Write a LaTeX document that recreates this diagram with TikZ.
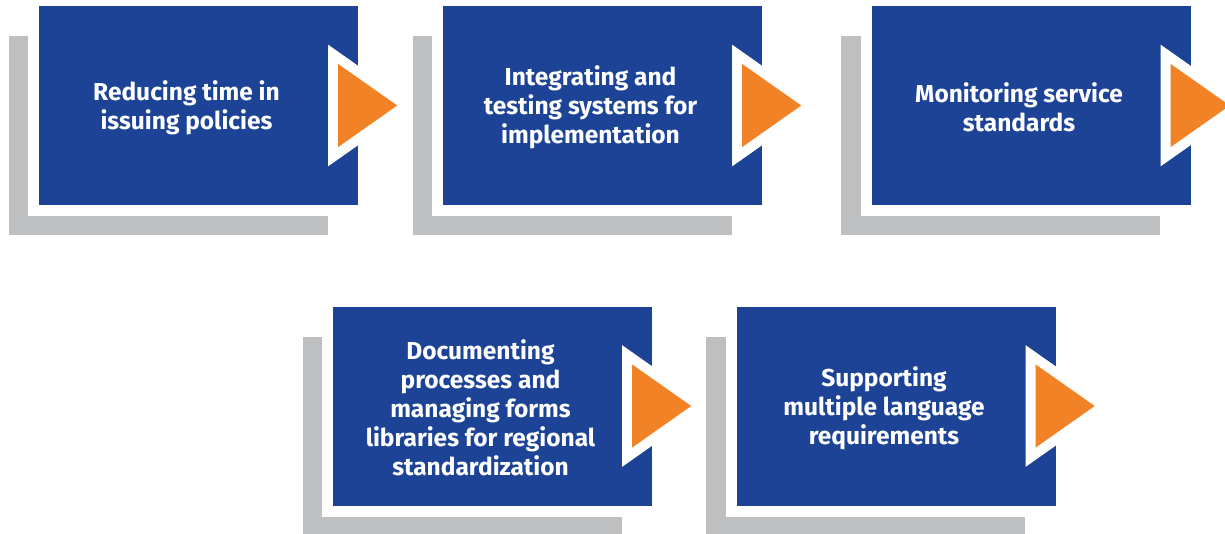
\documentclass[tikz,border=0pt]{standalone}
\usepackage{fontspec}
\setmainfont{Fira Sans}

\definecolor{boxblue}{RGB}{28,67,150}
\definecolor{tiporange}{RGB}{242,130,38}
\definecolor{shadegray}{RGB}{190,191,193}

\tikzset{
  stepbox/.style={rectangle, fill=boxblue, minimum width=319pt, minimum height=199pt, inner sep=0pt,
    preaction={fill=shadegray, transform canvas={shift={(-30.5pt,-30pt)}}},
    preaction={draw=white, line width=22pt}},
  steptext/.style={text=white, align=center, font=\fontsize{24.5}{29}\selectfont\bfseries},
  steptip/.style={fill=tiporange, preaction={draw=white, line width=20pt, line join=miter}}
}

\begin{document}
\begin{tikzpicture}[x=1pt,y=1pt]

    % Fix the page to the size of the image
    \useasboundingbox (0,0) rectangle (1225,-533);

    % First row: three steps
    \node[stepbox] (b1) at (198.5,-105.5) {};
    \node[steptext] (t1) at ([xshift=-12pt,yshift=-2pt]b1.center) {Reducing time in\\issuing policies};
    \fill[steptip] ([xshift=-20pt,yshift=41.5pt]b1.east) -- ([xshift=39pt]b1.east) -- ([xshift=-20pt,yshift=-41.5pt]b1.east) -- cycle;

    \node[stepbox] (b2) at (602.5,-105.5) {};
    \node[steptext] (t2) at ([xshift=-12pt,yshift=-2pt]b2.center) {Integrating and\\testing systems for\\implementation};
    \fill[steptip] ([xshift=-20pt,yshift=41.5pt]b2.east) -- ([xshift=39pt]b2.east) -- ([xshift=-20pt,yshift=-41.5pt]b2.east) -- cycle;

    \node[stepbox] (b3) at (1031,-105.5) {};
    \node[steptext] (t3) at ([xshift=-12pt,yshift=-2pt]b3.center) {Monitoring service\\standards};
    \fill[steptip] ([xshift=-20pt,yshift=41.5pt]b3.east) -- ([xshift=39pt]b3.east) -- ([xshift=-20pt,yshift=-41.5pt]b3.east) -- cycle;

    % Second row: two steps
    \node[stepbox] (b4) at (492.5,-406) {};
    \node[steptext] (t4) at ([xshift=-12pt,yshift=-2pt]b4.center) {Documenting\\processes and\\managing forms\\libraries for regional\\standardization};
    \fill[steptip] ([xshift=-20pt,yshift=41.5pt]b4.east) -- ([xshift=39pt]b4.east) -- ([xshift=-20pt,yshift=-41.5pt]b4.east) -- cycle;

    \node[stepbox] (b5) at (896,-406) {};
    \node[steptext] (t5) at ([xshift=-12pt,yshift=-2pt]b5.center) {Supporting\\multiple language\\requirements};
    \fill[steptip] ([xshift=-20pt,yshift=41.5pt]b5.east) -- ([xshift=39pt]b5.east) -- ([xshift=-20pt,yshift=-41.5pt]b5.east) -- cycle;

\end{tikzpicture}
\end{document}
